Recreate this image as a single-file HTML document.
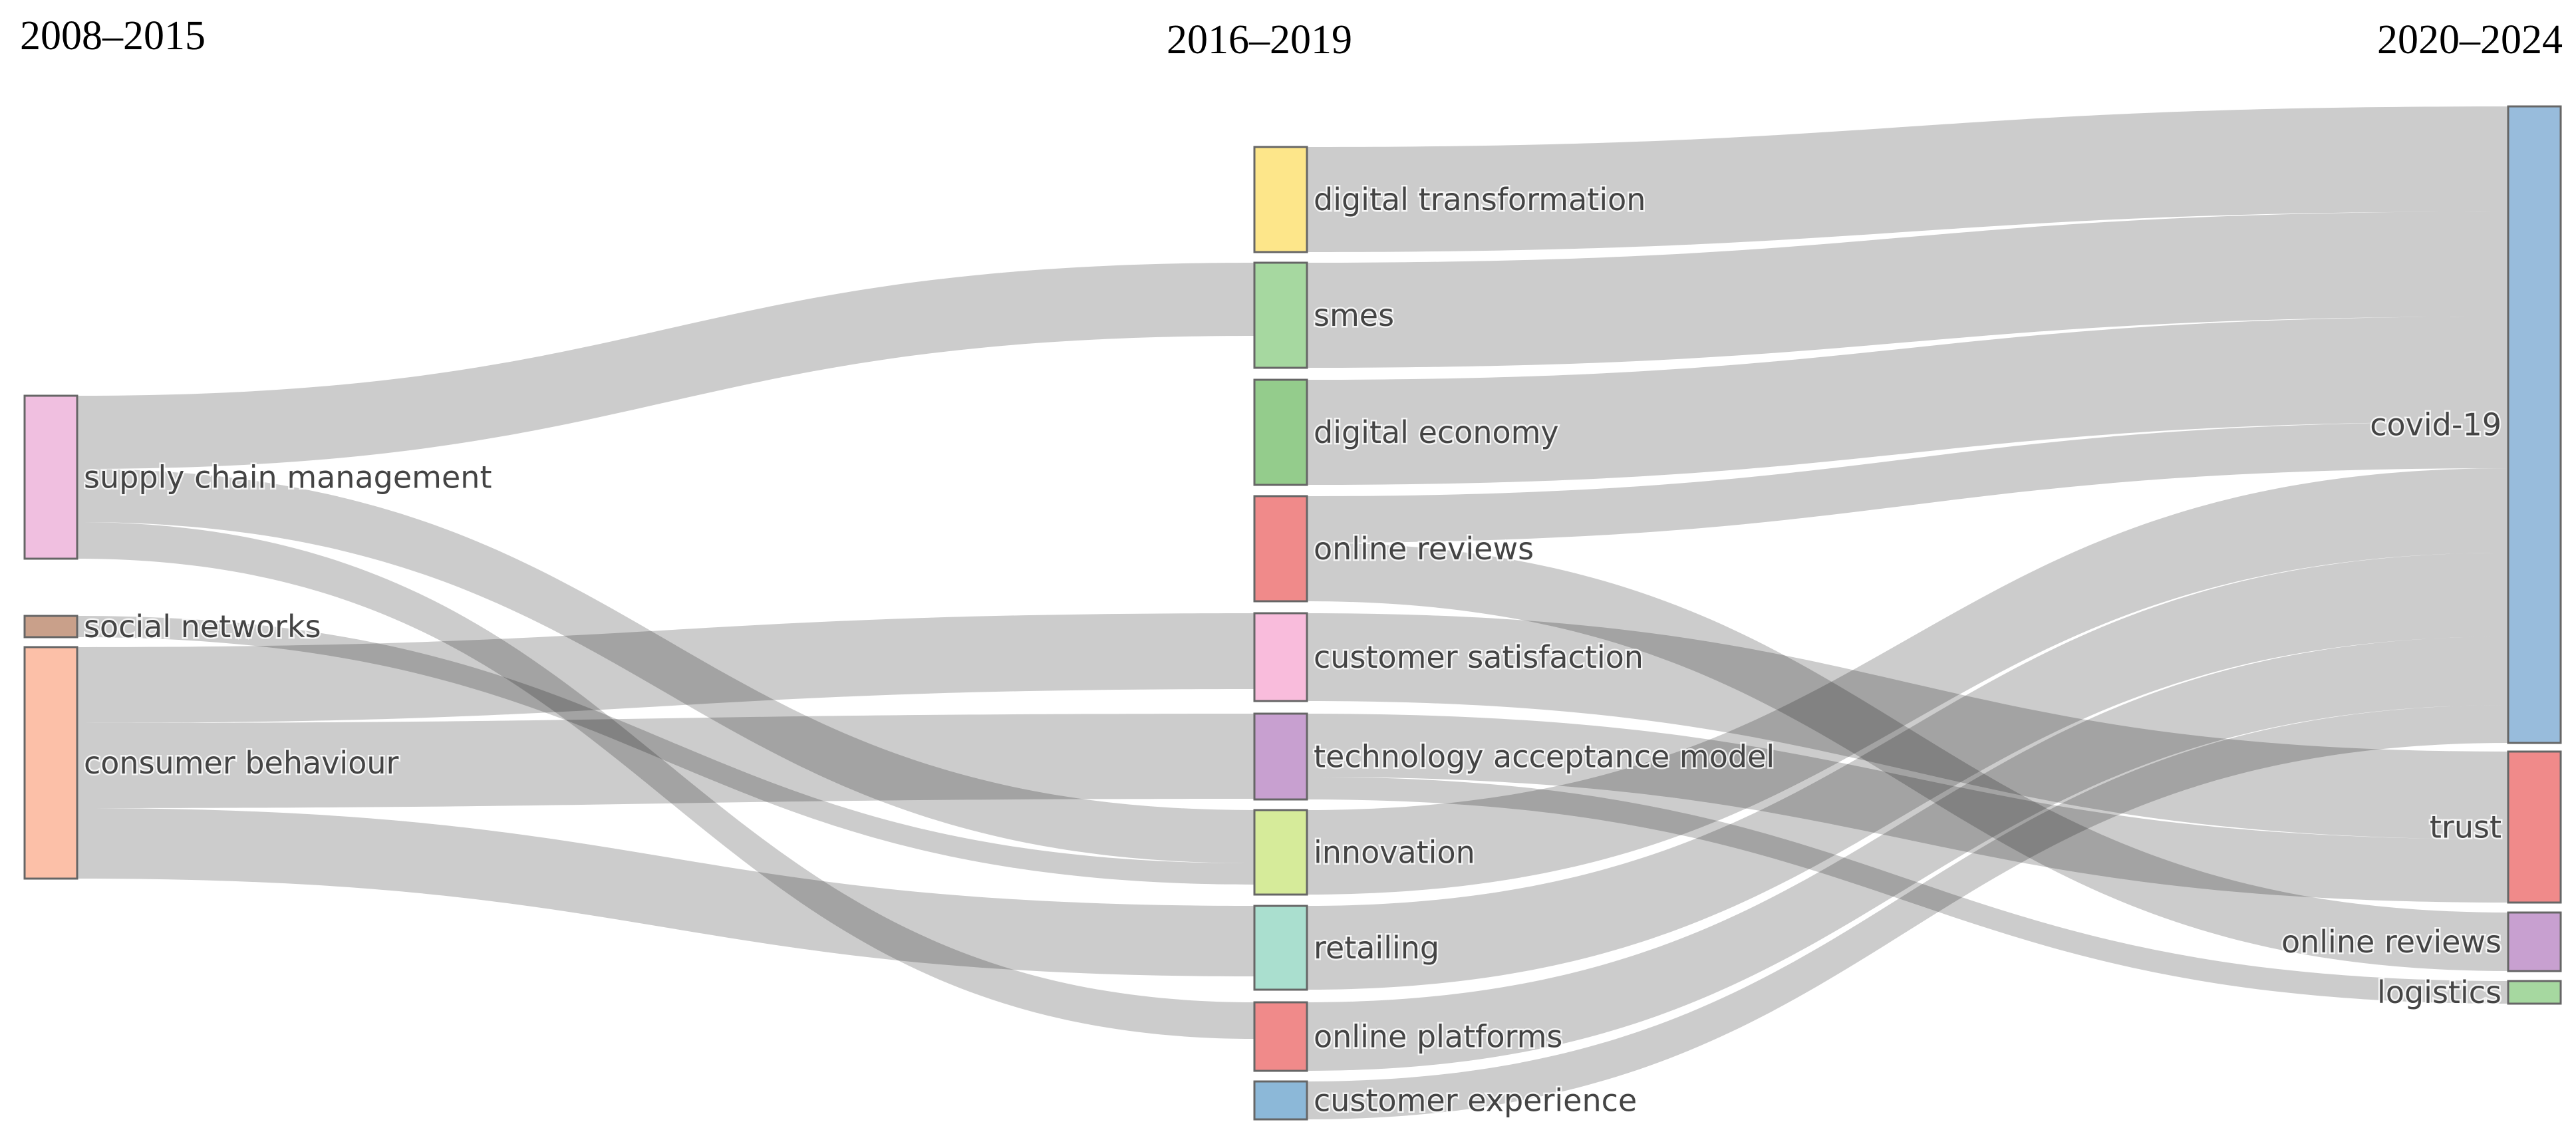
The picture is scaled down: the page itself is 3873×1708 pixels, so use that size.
<!DOCTYPE html>
<html><head><meta charset="utf-8">
<style>
html,body{margin:0;padding:0;background:#fff;}
svg{display:block;}
.lbl{font-family:"DejaVu Sans","Liberation Sans",sans-serif;font-size:46px;fill:#444;paint-order:stroke;stroke:#fff;stroke-width:5px;stroke-opacity:0.8;}
.ttl{font-family:"Liberation Serif",serif;font-size:62px;fill:#000;}
</style></head>
<body>
<svg id="chart" width="3873" height="1708" viewBox="0 0 3873 1708">
<text class="ttl" x="30" y="74">2008–2015</text>
<text class="ttl" x="1754" y="80">2016–2019</text>
<text class="ttl" x="3853" y="80" text-anchor="end">2020–2024</text>
<g id="links"></g>
<g id="nodes"></g>
</svg>
<script>
// Node data
const nodeNames = ["supply chain management","social networks","consumer behaviour",
 "digital transformation","smes","digital economy","online reviews","customer satisfaction","technology acceptance model","innovation","retailing","online platforms","customer experience",
 "covid-19","trust","online reviews","logistics"];
const nodeColumns = [0,0,0, 1,1,1,1,1,1,1,1,1,1, 2,2,2,2];
const nodeColors = ["#f0bfe0","#c9a08a","#fcc0a8","#fde68a","#a6d8a0","#94cc8c","#f08a8a","#f9bcdc","#c8a0d0","#d6eb9a","#aadfcf","#f08a8a","#8cb8d8","#98bcdc","#f08a8a","#c8a0d0","#a6d8a0"];
// Link data
const linkSources = [0,0,0,1,2,2,2, 3,4,5,6,6,7,8,8,9,10,11,12];
const linkTargets = [4,9,11,9,7,8,10, 13,13,13,13,15,14,14,16,13,13,13,13];
const linkValues  = [110,80,55,32,114,128,106, 158,158,158,70,88,132,95,34,127,126,103,57];

// Layout (not data)
const colX = [37, 1886, 3771];
const nodeW = 79;
const colStart = [595, 221, 160];
const colGaps = [[86,15],[16,18,17,18,19,16,17,19,16],[13,15,15]];
const k = 1.0;

const svgNS = "http://www.w3.org/2000/svg";
const N = nodeNames.length;
const inSum = new Array(N).fill(0), outSum = new Array(N).fill(0);
linkValues.forEach((v,i)=>{ outSum[linkSources[i]]+=v; inSum[linkTargets[i]]+=v; });
const nodeH = nodeNames.map((_,i)=>Math.max(inSum[i],outSum[i])*k);
const nodeY = new Array(N);
[0,1,2].forEach(c=>{
  let y = colStart[c], idx = 0;
  for(let i=0;i<N;i++){ if(nodeColumns[i]!==c) continue;
    if(idx>0) y += colGaps[c][idx-1] || 15;
    nodeY[i]=y; y+=nodeH[i]; idx++; }
});
const nodeX = nodeColumns.map(c=>colX[c]);

const order = linkValues.map((_,i)=>i);
const sy0 = [], ty0 = [];
const outOff = new Array(N).fill(0), inOff = new Array(N).fill(0);
[...order].sort((a,b)=>nodeY[linkTargets[a]]-nodeY[linkTargets[b]]).forEach(i=>{
  const s=linkSources[i]; sy0[i]=nodeY[s]+outOff[s]; outOff[s]+=linkValues[i]*k; });
[...order].sort((a,b)=>nodeY[linkSources[a]]-nodeY[linkSources[b]]).forEach(i=>{
  const t=linkTargets[i]; ty0[i]=nodeY[t]+inOff[t]; inOff[t]+=linkValues[i]*k; });

const gL = document.getElementById('links');
order.forEach(i=>{
  const s=linkSources[i], t=linkTargets[i], w=linkValues[i]*k;
  const x0 = nodeX[s]+nodeW, x1 = nodeX[t], xm=(x0+x1)/2;
  const a=sy0[i], b=ty0[i];
  const d=`M${x0},${a} C${xm},${a} ${xm},${b} ${x1},${b} L${x1},${b+w} C${xm},${b+w} ${xm},${a+w} ${x0},${a+w} Z`;
  const p=document.createElementNS(svgNS,'path');
  p.setAttribute('d',d); p.setAttribute('fill','#000'); p.setAttribute('fill-opacity','0.2');
  
  
  gL.appendChild(p);
});

const gN = document.getElementById('nodes');
nodeNames.forEach((name,i)=>{
  const r=document.createElementNS(svgNS,'rect');
  r.setAttribute('x',nodeX[i]); r.setAttribute('y',nodeY[i]);
  r.setAttribute('width',nodeW); r.setAttribute('height',nodeH[i]);
  r.setAttribute('fill',nodeColors[i]); r.setAttribute('stroke','#666'); r.setAttribute('stroke-width','3');
  
  
  gN.appendChild(r);
  const tx=document.createElementNS(svgNS,'text');
  tx.setAttribute('class','lbl');
  const right = nodeColumns[i]===2;
  tx.setAttribute('x', right ? nodeX[i]-10 : nodeX[i]+nodeW+10);
  tx.setAttribute('y', nodeY[i]+nodeH[i]/2+16);
  if(right) tx.setAttribute('text-anchor','end');
  tx.textContent=name;
  
  
  gN.appendChild(tx);
});
</script>
</body></html>
